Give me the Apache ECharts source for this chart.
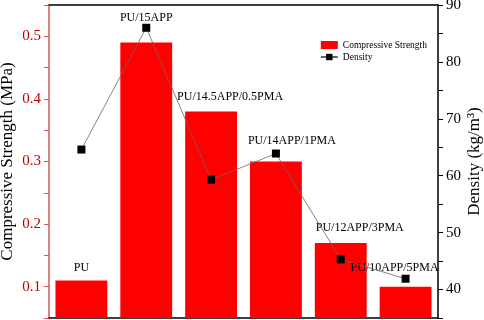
<!DOCTYPE html>
<html>
<head>
<meta charset="utf-8">
<script src="https://cdn.jsdelivr.net/npm/echarts@6/dist/echarts.min.js"></script>
<style>
  html, body { margin: 0; padding: 0; background: #fff; }
  #chart { width: 484px; height: 320px; }
</style>
</head>
<body>
<div id="chart"></div>
<script>
// data
var samples = ['PU', 'PU/15APP', 'PU/14.5APP/0.5PMA', 'PU/14APP/1PMA', 'PU/12APP/3PMA', 'PU/10APP/5PMA'];
var strength = [0.11, 0.49, 0.38, 0.30, 0.17, 0.10];
var density = [64.6, 86.0, 59.3, 63.9, 45.3, 41.9];

// label nudges (px) so names sit like in the figure
var labelShift = [[0, -2], [0, -14], [19, -4], [16, -10], [19, -4], [-11, -8]];

var serif = 'Liberation Serif';
var chart = echarts.init(document.getElementById('chart'));

chart.setOption({
  animation: false,
  textStyle: { fontFamily: serif },
  grid: { left: 49, right: 46, top: 5, bottom: 2, containLabel: false, outerBoundsMode: 'none' },
  legend: {
    right: 52, top: 35, orient: 'vertical', itemGap: 2,
    itemWidth: 17, itemHeight: 8,
    textStyle: { fontFamily: serif, fontSize: 9.5, color: '#000' },
    data: [{ name: 'Compressive Strength', icon: 'rect' }, 'Density']
  },
  xAxis: [{
    type: 'category', data: samples,
    axisLine: { lineStyle: { color: '#000', width: 1.5 } },
    axisTick: { show: false }, axisLabel: { show: false }
  }, {
    type: 'category', data: samples, position: 'top',
    axisLine: { lineStyle: { color: '#000', width: 1.5 } },
    axisTick: { show: false }, axisLabel: { show: false }
  }],
  yAxis: [{
    type: 'value', min: 0.05, max: 0.55, interval: 0.05,
    name: 'Compressive Strength (MPa)', nameLocation: 'middle', nameGap: 33,
    nameMoveOverlap: false,
    nameTextStyle: { fontFamily: serif, fontSize: 17, color: '#000' },
    axisLine: { show: true, lineStyle: { color: '#d0585a', width: 1.5 } },
    axisTick: { show: true, length: 5, lineStyle: { color: '#d0585a' } },
    axisLabel: {
      color: '#c00000', fontSize: 15, fontFamily: serif, margin: 8,
      formatter: function (v) { return Math.round(v * 100) % 10 === 0 ? v.toFixed(1) : ''; }
    },
    splitLine: { show: false }
  }, {
    type: 'value', min: 35, max: 90, interval: 5, position: 'right',
    name: 'Density (kg/m³)', nameLocation: 'middle', nameGap: 28,
    nameMoveOverlap: false,
    nameTextStyle: { fontFamily: serif, fontSize: 17, color: '#000' },
    axisLine: { show: true, lineStyle: { color: '#000', width: 1.5 } },
    axisTick: { show: true, length: 5, lineStyle: { color: '#000' } },
    axisLabel: {
      color: '#000', fontSize: 15, fontFamily: serif, margin: 8,
      formatter: function (v) { return v % 10 === 0 ? String(v) : ''; }
    },
    splitLine: { show: false }
  }],
  series: [{
    name: 'Compressive Strength', type: 'bar', yAxisIndex: 0,
    barCategoryGap: '20%',
    itemStyle: { color: '#ff0000' },
    data: strength.map(function (v, i) {
      return { value: v, label: { offset: labelShift[i] } };
    }),
    label: {
      show: true, position: 'top', color: '#000', fontSize: 12, fontFamily: serif,
      formatter: function (p) { return samples[p.dataIndex]; }
    }
  }, {
    name: 'Density', type: 'line', yAxisIndex: 1,
    symbol: 'rect', symbolSize: 8,
    itemStyle: { color: '#000' },
    lineStyle: { color: '#666', width: 0.8 },
    data: density
  }]
});
</script>
</body>
</html>
